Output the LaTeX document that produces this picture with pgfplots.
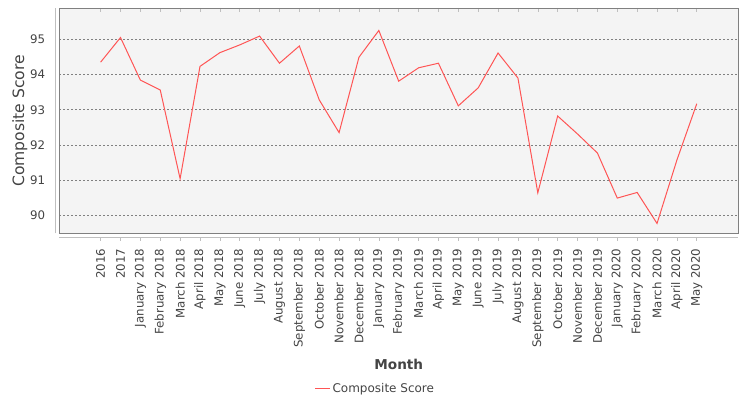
\documentclass[border=0pt]{standalone}
\usepackage{fontspec}
\setmainfont{DejaVu Sans}
\usepackage{pgfplots}
\pgfplotsset{compat=1.18}

\definecolor{seriesred}{HTML}{FF5555}
\definecolor{plotbg}{HTML}{F4F4F4}
\definecolor{txtgray}{HTML}{444444}

\pgfplotstableread{
idx score
0 94.35
1 95.05
2 93.84
3 93.56
4 91.04
5 94.23
6 94.62
7 94.84
8 95.09
9 94.32
10 94.81
11 93.28
12 92.35
13 94.49
14 95.25
15 93.81
16 94.19
17 94.32
18 93.11
19 93.62
20 94.61
21 93.90
22 90.64
23 92.82
24 92.31
25 91.77
26 90.49
27 90.65
28 89.77
29 91.57
30 93.17
}\scoretable

\begin{document}
\begin{tikzpicture}
\path[use as bounding box] (0,0) rectangle (750bp,400bp);
\begin{axis}[
    at={(59.3bp,166.7bp)}, anchor=south west,
    scale only axis,
    width=679bp, height=225bp,
    xmin=-2.08, xmax=32.09,
    ymin=89.49, ymax=95.88,
    axis background/.style={fill=plotbg},
    axis line style={draw=gray, line width=0.8bp},
    xtick={0,...,30},
    xticklabels={2016,2017,January 2018,February 2018,March 2018,April 2018,May 2018,June 2018,July 2018,August 2018,September 2018,October 2018,November 2018,December 2018,January 2019,February 2019,March 2019,April 2019,May 2019,June 2019,July 2019,August 2019,September 2019,October 2019,November 2019,December 2019,January 2020,February 2020,March 2020,April 2020,May 2020},
    ytick={90,91,92,93,94,95},
    tick align=outside,
    major tick length=4bp,
    x tick style={draw=gray!50, line width=0.6bp, yshift=-3.5bp},
    y tick style={draw=none},
    xticklabel style={rotate=90, anchor=east, inner sep=0pt, text=txtgray,
        font=\fontsize{11.8bp}{13bp}\selectfont},
    xticklabel shift=11bp,
    yticklabel style={anchor=east, inner sep=0pt, text=txtgray,
        font=\fontsize{11.8bp}{13bp}\selectfont},
    yticklabel shift=10bp,
    /pgf/number format/assume math mode=true,
    ymajorgrids=true,
    grid style={draw=gray, dash pattern=on 2bp off 2bp, line width=0.6bp},
    xlabel={Month},
    ylabel={Composite Score},
    xlabel style={at={(axis description cs:0.5,-0.582)}, anchor=center,
        font=\bfseries\fontsize{13.6bp}{15bp}\selectfont, text=txtgray},
    ylabel style={at={(axis description cs:-0.058,0.5)}, anchor=center,
        font=\fontsize{15.6bp}{17bp}\selectfont, text=txtgray},
    legend style={at={(axis description cs:0.4654,-0.689)}, anchor=center,
        draw=none, fill=none, text=txtgray,
        font=\fontsize{12bp}{14bp}\selectfont},
    legend image code/.code={\draw[#1] (0bp,0bp) -- (15bp,0bp);},
    clip=false,
]
\addplot[color=seriesred, line width=1bp, mark=none] table[x=idx, y=score] {\scoretable};
\addlegendentry{Composite Score}
\draw[gray!50, line width=0.6bp] ([yshift=-3.5bp]rel axis cs:0,0) -- ([yshift=-3.5bp]rel axis cs:1,0);
\draw[gray!50, line width=0.6bp] ([xshift=-3.5bp]rel axis cs:0,0) -- ([xshift=-3.5bp]rel axis cs:0,1);
\end{axis}
\end{tikzpicture}
\end{document}
